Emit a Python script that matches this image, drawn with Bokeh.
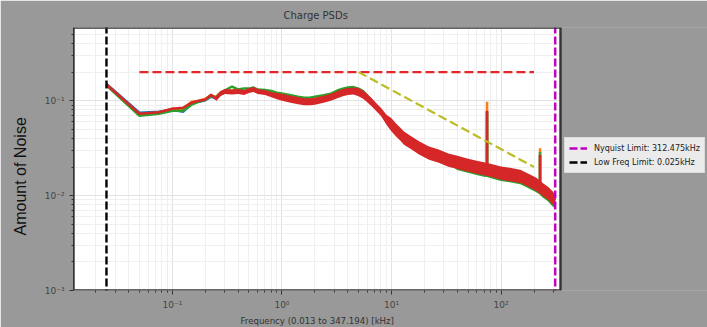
import math
from bokeh.plotting import figure
from bokeh.models import (Range1d, FixedTicker, CustomJSTickFormatter, Legend,
                          LegendItem, Title)
from bokeh.embed import file_html
from bokeh.resources import INLINE

# ---------------- data ----------------
freq_khz = [0.025, 0.05, 0.075, 0.1, 0.125, 0.15, 0.175, 0.2, 0.225, 0.25,
            0.275, 0.3, 0.35, 0.4, 0.45, 0.5, 0.55, 0.6, 0.7, 0.8,
            0.9, 1.0, 1.2, 1.4, 1.6, 1.8, 2.0, 2.4, 2.8, 3.2,
            3.6, 4.0, 4.5, 5.0, 5.5, 6.0, 6.5, 7.0, 7.5, 8.0,
            9.0, 10, 11, 12, 13, 15, 18, 22, 27, 33,
            40, 50, 60, 70, 74.4, 74.5, 74.6, 80, 100, 120,
            150, 180, 210, 226.9, 227, 227.1, 240, 270, 300, 312.475]

psd_blue = [0.150, 0.0745, 0.0764, 0.0802, 0.0764, 0.0929, 0.0976, 0.1012, 0.1103, 0.105,
            0.1158, 0.1216, 0.1246, 0.1231, 0.1231, 0.1262, 0.1278, 0.1246, 0.1202, 0.1158,
            0.1117, 0.1089, 0.1037, 0.100, 0.0976, 0.0976, 0.0988, 0.1037, 0.1089, 0.1158,
            0.1216, 0.1246, 0.1262, 0.1231, 0.1158, 0.1063, 0.0976, 0.0896, 0.0822, 0.0764,
            0.0628, 0.0556, 0.0491, 0.0446, 0.0404, 0.0362, 0.0316, 0.0280, 0.0260, 0.0236,
            0.0224, 0.0209, 0.0199, 0.0191, 0.0189, 0.0783, 0.0188, 0.0185, 0.0173, 0.0167,
            0.0159, 0.0144, 0.0131, 0.0124, 0.0267, 0.0123, 0.0116, 0.0105, 0.0093, 0.0089]

psd_orange = [0.146, 0.071, 0.0745, 0.0822, 0.0822, 0.0976, 0.100, 0.105, 0.113, 0.1103,
              0.1216, 0.1262, 0.1278, 0.1309, 0.1246, 0.1309, 0.1294, 0.1278, 0.1246, 0.1187,
              0.1158, 0.113, 0.1076, 0.1037, 0.1025, 0.1025, 0.105, 0.1103, 0.1158, 0.1216,
              0.1278, 0.1309, 0.1325, 0.1278, 0.1187, 0.1076, 0.0976, 0.0885, 0.0802, 0.0728,
              0.0610, 0.0530, 0.0470, 0.0430, 0.0390, 0.0350, 0.0305, 0.0270, 0.0250, 0.0228,
              0.0216, 0.0200, 0.0190, 0.0182, 0.0180, 0.0976, 0.0180, 0.0177, 0.0166, 0.0160,
              0.0152, 0.0138, 0.0125, 0.0119, 0.0316, 0.0119, 0.0111, 0.0100, 0.0089, 0.0085]

psd_green = [0.145, 0.0692, 0.0728, 0.0783, 0.0783, 0.0907, 0.0976, 0.1025, 0.113, 0.1076,
             0.1216, 0.1278, 0.141, 0.1309, 0.134, 0.134, 0.1375, 0.1309, 0.1294, 0.1262,
             0.1216, 0.1187, 0.1144, 0.1103, 0.1076, 0.1076, 0.1103, 0.1144, 0.1187, 0.1278,
             0.134, 0.1375, 0.139, 0.134, 0.1262, 0.113, 0.1025, 0.0907, 0.0822, 0.0764,
             0.0628, 0.0556, 0.0491, 0.0446, 0.0404, 0.0362, 0.0316, 0.0280, 0.0260, 0.0230,
             0.0192, 0.0179, 0.0170, 0.0163, 0.0162, 0.0760, 0.0162, 0.0158, 0.0147, 0.0142,
             0.0136, 0.0123, 0.0112, 0.0106, 0.0287, 0.0106, 0.0099, 0.0090, 0.0079, 0.0076]

psd_red = [0.148, 0.0728, 0.0755, 0.0822, 0.0842, 0.0952, 0.100, 0.1025, 0.1158, 0.105,
           0.1187, 0.1246, 0.1231, 0.1246, 0.1216, 0.1278, 0.1309, 0.1246, 0.1216, 0.1158,
           0.1117, 0.1089, 0.1037, 0.100, 0.0976, 0.0976, 0.0988, 0.1037, 0.1089, 0.1158,
           0.1216, 0.1246, 0.1262, 0.1231, 0.1158, 0.1063, 0.0976, 0.0896, 0.0822, 0.0764,
           0.0628, 0.0556, 0.0491, 0.0446, 0.0404, 0.0362, 0.0316, 0.0280, 0.0260, 0.0236,
           0.0224, 0.0209, 0.0199, 0.0191, 0.0189, 0.0783, 0.0188, 0.0185, 0.0173, 0.0167,
           0.0159, 0.0144, 0.0131, 0.0124, 0.0267, 0.0123, 0.0116, 0.0105, 0.0093, 0.0089]

# spread (noise envelope) of the red trace
band_freq = [0.25, 0.275, 0.3, 0.35, 0.4, 0.45, 0.5, 0.55, 0.6, 0.7,
             0.8, 0.9, 1.0, 1.2, 1.4, 1.6, 1.8, 2.0, 2.4, 2.8,
             3.2, 3.6, 4.0, 4.5, 5.0, 5.5, 6.0, 6.5, 7.0, 7.5,
             8.0, 9.0, 10, 11, 12, 13, 15, 18, 22, 27,
             33, 40, 50, 60, 70, 80, 100, 120, 150, 180,
             210, 240, 270, 300, 312.475]
red_hi = [0.1116, 0.1262, 0.1324, 0.1309, 0.1324, 0.1293, 0.1358, 0.1391, 0.1324, 0.1293,
          0.1231, 0.1202, 0.1186, 0.1130, 0.1090, 0.1063, 0.1063, 0.1076, 0.1130, 0.1186,
          0.1262, 0.1325, 0.1358, 0.1375, 0.1358, 0.1277, 0.1173, 0.1077, 0.0988, 0.0907,
          0.0843, 0.0710, 0.0652, 0.0576, 0.0523, 0.0474, 0.0425, 0.0371, 0.0328, 0.0305,
          0.0277, 0.0263, 0.0245, 0.0233, 0.0224, 0.0217, 0.0203, 0.0196, 0.0187, 0.0169,
          0.0154, 0.0136, 0.0123, 0.0109, 0.0101]
red_lo = [0.0988, 0.1117, 0.1172, 0.1158, 0.1172, 0.1144, 0.1202, 0.1231, 0.1172, 0.1144,
          0.1089, 0.1038, 0.1000, 0.0952, 0.0918, 0.0896, 0.0896, 0.0907, 0.0952, 0.1000,
          0.1063, 0.1116, 0.1144, 0.1158, 0.1116, 0.1050, 0.0964, 0.0885, 0.0812, 0.0745,
          0.0693, 0.0556, 0.0474, 0.0419, 0.0380, 0.0344, 0.0309, 0.0269, 0.0239, 0.0222,
          0.0201, 0.0191, 0.0178, 0.0170, 0.0163, 0.0158, 0.0147, 0.0142, 0.0136, 0.0123,
          0.0112, 0.0099, 0.0090, 0.0079, 0.0079]

flat_ref_freq = [0.05, 200]
flat_ref_level = [0.2, 0.2]
slope_ref_freq = [5, 200]
slope_ref_level = [0.2, 0.02]

nyquist_khz = 312.475
low_freq_khz = 0.025
x_limits = (0.0125, 349.0)
y_limits = (1e-3, 0.59)

x_major = [0.1, 1, 10, 100]
y_major = [1e-3, 1e-2, 1e-1]

title_text = "Charge PSDs"
x_label = "Frequency (0.013 to 347.194) [kHz]"
y_label = "Amount of Noise"
legend_labels = ["Nyquist Limit: 312.475kHz", "Low Freq Limit: 0.025kHz"]

# ---------------- layout ----------------
W, H = 707, 327
LEFT, TOP, BOTTOM = 73, 27, 37
BOX_W = 487            # visible plotting box width (px)
FRAME_W = W - LEFT      # frame runs to the page edge; the part right of the box is painted grey
PAGE_GREY = "#999999"

lx0, lx1 = math.log10(x_limits[0]), math.log10(x_limits[1])
x_view_end = 10 ** (lx0 + (lx1 - lx0) * FRAME_W / BOX_W)

p = figure(width=W, height=H, x_axis_type="log", y_axis_type="log",
           x_range=Range1d(x_limits[0], x_view_end), y_range=Range1d(*y_limits),
           output_backend="svg", toolbar_location=None,
           min_border_left=LEFT, min_border_right=0, min_border_top=TOP,
           min_border_bottom=BOTTOM, background_fill_color=PAGE_GREY,
           border_fill_color=PAGE_GREY, outline_line_color=None)

# white plotting box underneath everything
p.quad(left=x_limits[0], right=x_limits[1], bottom=y_limits[0], top=y_limits[1],
       fill_color="white", line_color=None, level="underlay")

# title, positioned over the visible box
p.title.text = title_text
p.title.align = "left"
p.title.offset = 210
p.title.text_font = "DejaVu Sans"
p.title.text_font_size = "10px"
p.title.text_font_style = "normal"
p.title.text_color = "#333333"
p.title.standoff = 13

# ticks
x_minor = [m * d for d in [0.01, 0.1, 1, 10, 100] for m in range(2, 10)
           if x_limits[0] <= m * d <= x_limits[1]]
y_minor = [m * d for d in [1e-3, 1e-2, 1e-1] for m in range(2, 10)]
p.xaxis.ticker = FixedTicker(ticks=x_major, minor_ticks=x_minor)
p.yaxis.ticker = FixedTicker(ticks=y_major, minor_ticks=y_minor)

sup_fmt = CustomJSTickFormatter(code="""
const e = Math.round(Math.log10(tick));
const m = {'-':'\u207b','0':'\u2070','1':'\u00b9','2':'\u00b2','3':'\u00b3',
           '4':'\u2074','5':'\u2075','6':'\u2076','7':'\u2077','8':'\u2078','9':'\u2079'};
return '10' + String(e).split('').map(c => m[c]).join('');
""")
p.xaxis.formatter = sup_fmt
p.yaxis.formatter = sup_fmt

for ax in (p.xaxis[0], p.yaxis[0]):
    ax.axis_line_color = "#333333"
    ax.major_tick_line_color = "#333333"
    ax.minor_tick_line_color = "#333333"
    ax.major_tick_in = 0
    ax.major_tick_out = 4
    ax.minor_tick_in = 0
    ax.minor_tick_out = 2
    ax.major_label_text_font = "DejaVu Sans"
    ax.major_label_text_font_size = "9px"
    ax.major_label_text_color = "#444444"
    ax.major_label_standoff = 5
p.xaxis.axis_line_color = None  # bottom edge drawn by the box outline instead

xlab = Title(text=x_label, align="left", offset=167, standoff=3,
             text_font="DejaVu Sans", text_font_size="8.6px",
             text_font_style="normal", text_color="#333333")
p.add_layout(xlab, "below")

ylab = Title(text=y_label, align="left", offset=55, standoff=21,
             vertical_align="top",
             text_font="Liberation Sans", text_font_size="16px",
             text_font_style="normal", text_color="#111111")
p.add_layout(ylab, "left")

p.xgrid.grid_line_color = "#e2e2e2"
p.ygrid.grid_line_color = "#e2e2e2"
p.xgrid.minor_grid_line_color = "#efefef"
p.ygrid.minor_grid_line_color = "#efefef"

# ---------------- series ----------------
p.line(freq_khz, psd_blue, line_color="#1f77b4", line_width=2.5)
p.line(freq_khz, psd_orange, line_color="#ff7f0e", line_width=2.5)
p.line(freq_khz, psd_green, line_color="#2ca02c", line_width=2.5)
p.varea(x=band_freq, y1=red_lo, y2=red_hi, fill_color="#d62728")
p.line(freq_khz, psd_red, line_color="#d62728", line_width=2.5)

# reference lines
p.line(flat_ref_freq, flat_ref_level, line_color="#e0282a", line_width=2.2,
       line_dash="9 4")
p.line(slope_ref_freq, slope_ref_level, line_color="#bcbd22", line_width=2.2,
       line_dash="9 4")

r_nyq = p.line([nyquist_khz, nyquist_khz], [1e-4, 10], line_color="#bf00bf",
               line_width=2.4, line_dash="8 3")
r_low = p.line([low_freq_khz, low_freq_khz], [1e-4, 10], line_color="black",
               line_width=2.4, line_dash="8 3")

# grey page area to the right of the plotting box, then the box outline
p.quad(left=x_limits[1], right=x_view_end * 10, bottom=y_limits[0] / 10,
       top=y_limits[1] * 10, fill_color=PAGE_GREY, line_color=None)
p.quad(left=x_limits[0], right=x_limits[1], bottom=y_limits[0], top=y_limits[1],
       fill_color=None, line_color="#333333", line_width=2.4)

legend = Legend(items=[LegendItem(label=legend_labels[0], renderers=[r_nyq]),
                       LegendItem(label=legend_labels[1], renderers=[r_low])],
                location=(491, 117), orientation="vertical",
                background_fill_color="#ebebeb", background_fill_alpha=1.0,
                border_line_color="#cccccc", border_line_width=1,
                label_text_font="DejaVu Sans", label_text_font_size="8px",
                label_text_color="#222222", glyph_width=18, glyph_height=12,
                label_height=12, label_standoff=7, spacing=2, padding=4,
                margin=0)
p.add_layout(legend)

open("out.html", "w").write(file_html(p, INLINE))
